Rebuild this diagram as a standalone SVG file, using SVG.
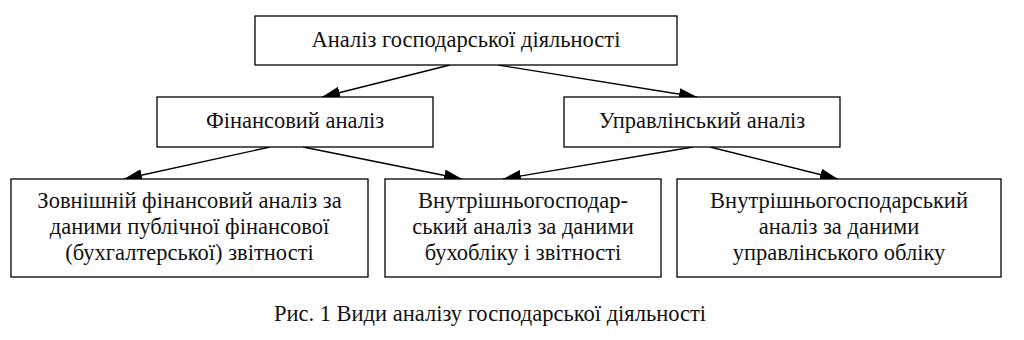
<svg xmlns="http://www.w3.org/2000/svg" width="1024" height="340" viewBox="0 0 1024 340">
<style>
.box{fill:#fff;stroke:#000;stroke-width:1.3}
.t{font-family:"Liberation Serif","Times New Roman",serif;font-size:22.5px;fill:#111;text-anchor:middle}
.c{stroke:#000;stroke-width:1.3;fill:none;marker-end:url(#ah)}
</style>
<defs>
<marker id="ah" markerWidth="18" markerHeight="12" refX="18" refY="6" orient="auto" markerUnits="userSpaceOnUse">
<path d="M0,0 L18,6 L0,12 Z" fill="#000"/>
</marker>
</defs>
<rect width="1024" height="340" fill="#fff"/>
<g id="connectors">
<line class="c" x1="450" y1="65" x2="322" y2="97"/>
<line class="c" x1="498" y1="65" x2="697" y2="97"/>
<line class="c" x1="270" y1="147" x2="124" y2="179"/>
<line class="c" x1="303" y1="147" x2="462" y2="179"/>
<line class="c" x1="693" y1="147" x2="503" y2="179"/>
<line class="c" x1="710" y1="147" x2="838" y2="179"/>
</g>
<g id="root">
<rect class="box" x="255" y="16" width="422" height="49"/>
<text class="t" x="466" y="47">Аналіз господарської діяльності</text>
</g>
<g id="fin">
<rect class="box" x="157" y="97" width="276" height="50"/>
<text class="t" x="295" y="128">Фінансовий аналіз</text>
</g>
<g id="upr">
<rect class="box" x="564" y="97" width="276" height="50"/>
<text class="t" x="702" y="128">Управлінський аналіз</text>
</g>
<g id="ext">
<rect class="box" x="11" y="179" width="357" height="98"/>
<text class="t" x="189.5" y="208">Зовнішній фінансовий аналіз за</text>
<text class="t" x="189.5" y="234">даними публічної фінансової</text>
<text class="t" x="189.5" y="260">(бухгалтерської) звітності</text>
</g>
<g id="int1">
<rect class="box" x="385" y="179" width="276" height="98"/>
<text class="t" x="523" y="208">Внутрішньогосподар-</text>
<text class="t" x="523" y="234">ський аналіз за даними</text>
<text class="t" x="523" y="260">бухобліку і звітності</text>
</g>
<g id="int2">
<rect class="box" x="677" y="179" width="324" height="98"/>
<text class="t" x="839" y="208">Внутрішньогосподарський</text>
<text class="t" x="839" y="234">аналіз за даними</text>
<text class="t" x="839" y="260">управлінського обліку</text>
</g>
<text class="t" x="490" y="321">Рис. 1 Види аналізу господарської діяльності</text>
</svg>
